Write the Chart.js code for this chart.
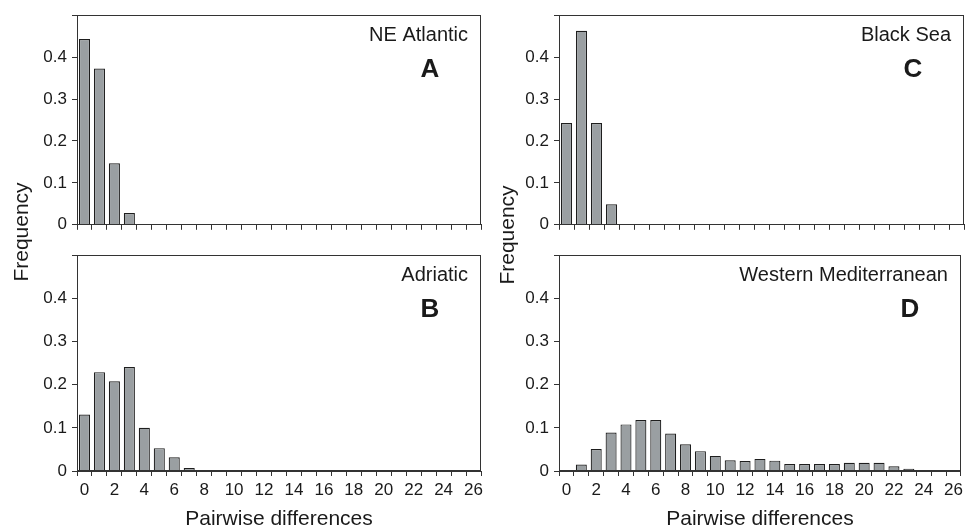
<!DOCTYPE html>
<html>
<head>
<meta charset="utf-8">
<title>Pairwise differences</title>
<script src="https://cdn.jsdelivr.net/npm/chart.js@4.4.1/dist/chart.umd.min.js"></script>
<style>
    body { margin: 0; background: #fff; }
    #wrap { position: relative; width: 967px; height: 530px; font-family: "Liberation Sans", Arial, sans-serif; }
    canvas { position: absolute; }
    .ylab {
        position: absolute; width: 200px; height: 24px; line-height: 24px;
        text-align: center; font-size: 21px; color: #1a1a1a;
        transform: rotate(-90deg);
    }
</style>
</head>
<body>
<div id="wrap">
    <canvas id="panelA" width="490" height="240" style="left:0;top:0"></canvas>
    <canvas id="panelB" width="490" height="290" style="left:0;top:240px"></canvas>
    <canvas id="panelC" width="477" height="240" style="left:490px;top:0"></canvas>
    <canvas id="panelD" width="477" height="290" style="left:490px;top:240px"></canvas>
    <div class="ylab" style="left:-79px;top:220px">Frequency</div>
    <div class="ylab" style="left:407px;top:223px">Frequency</div>
</div>

<script>
// --- DATOS ---
const diferencias = ["0", "1", "2", "3", "4", "5", "6", "7", "8", "9", "10", "11", "12", "13",
    "14", "15", "16", "17", "18", "19", "20", "21", "22", "23", "24", "25", "26"];

const neAtlantic = [0.443, 0.373, 0.147, 0.028];
const adriatic = [0.131, 0.229, 0.208, 0.241, 0.100, 0.053, 0.032, 0.007];
const blackSea = [0.243, 0.463, 0.243, 0.049];
const westernMed = [0, 0.015, 0.051, 0.089, 0.108, 0.118, 0.118, 0.087, 0.062, 0.046, 0.035,
    0.025, 0.023, 0.028, 0.024, 0.016, 0.016, 0.016, 0.016, 0.019, 0.019, 0.019, 0.011, 0.005];

const FUENTE = '"Liberation Sans", Arial, sans-serif';
const TEXTO = "#1a1a1a";
const EJE = "#333";

// marco del panel + nombre de la región y letra
const marco = {
    id: "marco",
    afterDraw(chart, args, opts) {
        const { ctx, chartArea: a } = chart;
        ctx.save();
        ctx.strokeStyle = EJE;
        ctx.lineWidth = 1;
        const l = Math.round(a.left) + 0.5, t = Math.round(a.top) + 0.5;
        const r = Math.round(a.right) - 0.5, b = Math.round(a.bottom) - 0.5;
        ctx.strokeRect(l, t, r - l, b - t);

        ctx.fillStyle = TEXTO;
        ctx.textBaseline = "alphabetic";
        ctx.textAlign = "right";
        ctx.font = "20px " + FUENTE;
        ctx.fillText(opts.name, a.right - 13, a.top + 26);
        ctx.textAlign = "center";
        ctx.font = "bold 26px " + FUENTE;
        ctx.fillText(opts.letter, a.right - 51, a.top + 62);
        ctx.restore();
    }
};

function crearPanel(id, datos, cfg) {
    return new Chart(document.getElementById(id), {
        type: "bar",
        data: {
            labels: diferencias,
            datasets: [{
                data: datos,
                backgroundColor: "#9a9fa2",
                borderColor: "#1e1e1e",
                borderWidth: 1.2,
                barPercentage: 0.74,
                categoryPercentage: 1
            }]
        },
        options: {
            responsive: false,
            animation: false,
            layout: { padding: { top: cfg.top, right: cfg.right, left: 0, bottom: 0 } },
            plugins: {
                legend: { display: false },
                tooltip: { enabled: false },
                marco: { name: cfg.name, letter: cfg.letter }
            },
            scales: {
                x: {
                    offset: true,
                    grid: { offset: true, drawOnChartArea: false, drawTicks: true, tickLength: 5, color: EJE },
                    border: { color: EJE, width: 1 },
                    ticks: {
                        autoSkip: false,
                        maxRotation: 0,
                        padding: 4,
                        color: TEXTO,
                        font: { size: 17, family: FUENTE },
                        callback: (v, i) => (cfg.xLabels && i % 2 === 0) ? diferencias[i] : ""
                    },
                    title: {
                        display: cfg.xLabels,
                        text: "Pairwise differences",
                        color: TEXTO,
                        font: { size: 21, family: FUENTE, lineHeight: 1 },
                        padding: 0
                    },
                    afterFit: s => { s.height = cfg.xHeight; }
                },
                y: {
                    min: 0,
                    max: 0.5,
                    grid: { drawOnChartArea: false, drawTicks: true, tickLength: 5, color: EJE },
                    border: { color: EJE, width: 1 },
                    ticks: {
                        stepSize: 0.05,
                        padding: 5,
                        color: TEXTO,
                        font: { size: 17, family: FUENTE },
                        callback: v => {
                            const c = Math.round(v * 100);
                            if (c % 10 !== 0 || c >= 50) return "";
                            return c === 0 ? "0" : (c / 100).toFixed(1);
                        }
                    },
                    afterFit: s => { s.width = cfg.yWidth; }
                }
            }
        },
        plugins: [marco]
    });
}

crearPanel("panelA", neAtlantic, { name: "NE Atlantic", letter: "A", top: 12, right: 9, yWidth: 77, xHeight: 12, xLabels: false });
crearPanel("panelB", adriatic, { name: "Adriatic", letter: "B", top: 15, right: 9, yWidth: 77, xHeight: 59, xLabels: true });
crearPanel("panelC", blackSea, { name: "Black Sea", letter: "C", top: 13, right: 3, yWidth: 69, xHeight: 11, xLabels: false });
crearPanel("panelD", westernMed, { name: "Western Mediterranean", letter: "D", top: 15, right: 3, yWidth: 69, xHeight: 59, xLabels: true });
</script>
</body>
</html>
